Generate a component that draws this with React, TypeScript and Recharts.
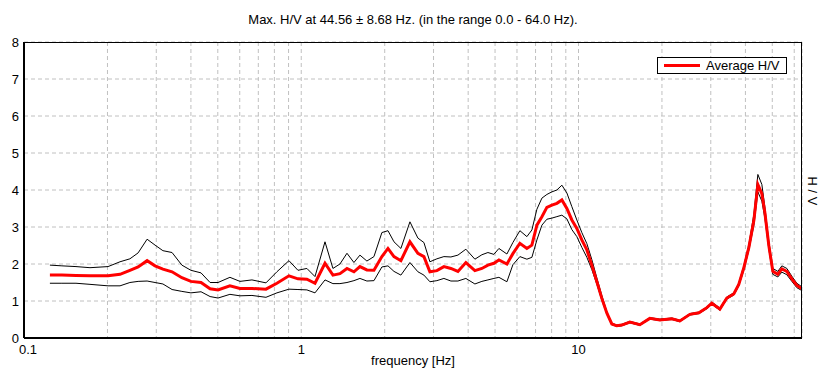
import { CartesianGrid, Legend, Line, LineChart, XAxis, YAxis } from "recharts";

// frequency [Hz] of each sample (log-spaced)
const freq = [
  0.124, 0.137, 0.154, 0.173, 0.201, 0.222, 0.241, 0.258, 0.278, 0.297,
  0.317, 0.342, 0.371, 0.4, 0.435, 0.469, 0.501, 0.553, 0.601, 0.664,
  0.746, 0.817, 0.903, 0.973, 1.048, 1.121, 1.218, 1.301, 1.379, 1.462,
  1.549, 1.628, 1.725, 1.829, 1.954, 2.055, 2.16, 2.288, 2.466, 2.635,
  2.77, 2.911, 3.085, 3.27, 3.466, 3.674, 3.925, 4.23, 4.483, 4.713,
  4.953, 5.164, 5.518, 5.799, 6.146, 6.514, 6.79, 7.079, 7.379, 7.691,
  8.017, 8.357, 8.711, 9.08, 9.464, 9.865, 10.28, 10.72, 11.17, 11.65,
  12.14, 12.66, 13.19, 13.75, 14.33, 15.32, 16.65, 18.08, 19.66, 21.72,
  23.21, 25.22, 27.19, 29.04, 30.27, 32.36, 34.28, 36.31, 37.86, 39.49,
  41.17, 42.92, 44.36, 45.85, 47.0, 48.59, 50.23, 52.36, 54.14, 56.43,
  58.82, 61.32, 64.0,
];

const avgHV = [
  1.7, 1.7, 1.69, 1.68, 1.68, 1.72, 1.83, 1.92, 2.09, 1.95,
  1.86, 1.79, 1.63, 1.53, 1.5, 1.33, 1.3, 1.41, 1.34, 1.34,
  1.32, 1.48, 1.68, 1.6, 1.59, 1.48, 2.02, 1.7, 1.74, 1.88,
  1.79, 1.93, 1.84, 1.83, 2.2, 2.42, 2.2, 2.09, 2.6, 2.29,
  2.2, 1.79, 1.82, 1.93, 1.88, 1.8, 2.04, 1.82, 1.88, 1.97,
  2.02, 2.11, 2.0, 2.28, 2.56, 2.42, 2.51, 3.05, 3.28, 3.53,
  3.59, 3.64, 3.73, 3.5, 3.19, 2.96, 2.65, 2.38, 1.97, 1.52,
  1.07, 0.67, 0.38, 0.33, 0.35, 0.43, 0.36, 0.53, 0.49, 0.52,
  0.46, 0.64, 0.68, 0.82, 0.94, 0.78, 1.08, 1.19, 1.45, 1.9,
  2.45, 3.18, 4.15, 3.9, 3.4, 2.5, 1.8, 1.72, 1.87, 1.8,
  1.6, 1.42, 1.33,
];

const upperHV = [
  1.97, 1.95, 1.93, 1.9, 1.93, 2.06, 2.14, 2.3, 2.67, 2.51,
  2.36, 2.31, 1.97, 1.83, 1.76, 1.5, 1.5, 1.64, 1.53, 1.57,
  1.49, 1.79, 2.09, 1.83, 1.88, 1.66, 2.6, 1.88, 2.0, 2.29,
  2.04, 2.24, 2.08, 2.2, 2.85, 2.9, 2.6, 2.42, 3.14, 2.7,
  2.58, 2.06, 2.14, 2.2, 2.19, 2.24, 2.4, 2.13, 2.25, 2.31,
  2.26, 2.42, 2.27, 2.58, 2.9, 2.74, 2.92, 3.48, 3.78, 3.88,
  3.95, 4.0, 4.13, 3.92, 3.55, 3.19, 2.85, 2.55, 2.12, 1.62,
  1.15, 0.71, 0.4, 0.35, 0.37, 0.45, 0.38, 0.55, 0.51, 0.54,
  0.48, 0.66, 0.7, 0.84, 0.97, 0.81, 1.11, 1.22, 1.49, 1.96,
  2.53, 3.35, 4.42, 4.15, 3.55, 2.6, 1.88, 1.8, 1.95, 1.88,
  1.67, 1.48, 1.38,
];

const lowerHV = [
  1.48, 1.48, 1.48, 1.45, 1.41, 1.41, 1.5, 1.53, 1.54, 1.5,
  1.46, 1.31, 1.26, 1.22, 1.25, 1.12, 1.08, 1.18, 1.14, 1.15,
  1.1, 1.22, 1.32, 1.31, 1.3, 1.22, 1.57, 1.47, 1.47, 1.5,
  1.55, 1.61, 1.54, 1.55, 1.92, 1.95, 1.8, 1.7, 2.04, 1.79,
  1.7, 1.52, 1.55, 1.61, 1.54, 1.54, 1.61, 1.46, 1.53, 1.57,
  1.61, 1.64, 1.52, 1.98, 2.2, 2.13, 2.18, 2.65, 3.05, 3.21,
  3.24, 3.28, 3.32, 3.22, 2.93, 2.74, 2.45, 2.18, 1.85, 1.45,
  1.02, 0.64, 0.36, 0.31, 0.33, 0.41, 0.34, 0.51, 0.47, 0.5,
  0.44, 0.62, 0.66, 0.79, 0.91, 0.75, 1.05, 1.16, 1.41, 1.84,
  2.38, 3.05, 3.95, 3.7, 3.25, 2.4, 1.72, 1.65, 1.78, 1.71,
  1.53, 1.36, 1.28,
];

const xTicks = [
  0.1, 0.2, 0.3, 0.4, 0.5, 0.6, 0.7, 0.8, 0.9,
  1, 2, 3, 4, 5, 6, 7, 8, 9,
  10, 20, 30, 40, 50, 60,
];
const xLabels = [0.1, 1, 10];
const yTicks = [0, 1, 2, 3, 4, 5, 6, 7, 8];

const title = "Max. H/V at 44.56 \u00b1 8.68 Hz. (in the range 0.0 - 64.0 Hz).";

const data = freq.map((f, i) => ({
  f,
  avg: avgHV[i],
  upper: upperHV[i],
  lower: lowerHV[i],
}));

const font = "'Liberation Sans', Arial, sans-serif";

// only the decades get a label; the first one sits a bit right of the axis
function FreqTick({ x, y, payload }: any) {
  const v = payload.value;
  if (!xLabels.includes(v)) return null;
  return (
    <text
      x={x + (v === xLabels[0] ? 4 : 0)}
      y={y}
      dy="0.71em"
      textAnchor="middle"
      fill="#000"
      fontSize={13}
      fontFamily={font}
    >
      {String(v)}
    </text>
  );
}

function LegendBox({ payload }: any) {
  const items = (payload || []).filter((p: any) => p.type !== "none");
  return (
    <div
      style={{
        border: "1px solid #000",
        background: "#fff",
        height: 15,
        display: "flex",
        alignItems: "center",
        fontFamily: font,
        fontSize: 13,
        color: "#000",
      }}
    >
      {items.map((p: any) => (
        <div key={p.value} style={{ display: "flex", alignItems: "center" }}>
          <svg width={48} height={15}>
            <line x1={6} x2={42} y1={7.5} y2={7.5} stroke={p.color} strokeWidth={3} />
          </svg>
          <span>{p.value}</span>
        </div>
      ))}
    </div>
  );
}

export default function App() {
  return (
    <div
      style={{
        position: "absolute",
        left: 0,
        top: 0,
        width: 826,
        height: 381,
        background: "#fff",
        fontFamily: font,
      }}
    >
      <div
        style={{
          position: "absolute",
          top: 12,
          left: 0,
          width: 826,
          textAlign: "center",
          fontSize: 13,
          color: "#000",
        }}
      >
        {title}
      </div>
      <LineChart
        width={826}
        height={381}
        data={data}
        margin={{ top: 42, right: 24, bottom: 0, left: 4 }}
      >
        <CartesianGrid stroke="#c0c0c0" strokeDasharray="4 3" />
        <XAxis
          dataKey="f"
          type="number"
          scale="log"
          domain={[0.1, 64]}
          allowDataOverflow
          ticks={xTicks}
          interval={0}
          tickLine={false}
          tickSize={0}
          tickMargin={7}
          height={43}
          axisLine={{ stroke: "#000", strokeWidth: 2 }}
          tick={<FreqTick />}
          label={{
            value: "frequency [Hz]",
            position: "insideBottom",
            offset: 16,
            fill: "#000",
            fontSize: 13,
            fontFamily: font,
          }}
        />
        <YAxis
          type="number"
          domain={[0, 8]}
          ticks={yTicks}
          interval={0}
          width={20}
          tickLine={false}
          tickSize={0}
          tickMargin={5}
          axisLine={{ stroke: "#000", strokeWidth: 2 }}
          tick={{ fill: "#000", fontSize: 13, fontFamily: font }}
        />
        <Legend
          layout="horizontal"
          verticalAlign="middle"
          align="center"
          content={<LegendBox />}
          wrapperStyle={{ left: 657, top: 57, width: 130, height: 17 }}
        />
        <Line
          dataKey="upper"
          stroke="#000"
          strokeWidth={1}
          dot={false}
          type="linear"
          legendType="none"
          isAnimationActive={false}
        />
        <Line
          dataKey="lower"
          stroke="#000"
          strokeWidth={1}
          dot={false}
          type="linear"
          legendType="none"
          isAnimationActive={false}
        />
        <Line
          dataKey="avg"
          name="Average H/V"
          stroke="#ff0000"
          strokeWidth={3}
          dot={false}
          type="linear"
          isAnimationActive={false}
        />
      </LineChart>
      <div
        style={{
          position: "absolute",
          left: 24,
          top: 42,
          width: 777,
          height: 295,
          borderTop: "1px solid #000",
          borderRight: "1px solid #000",
          pointerEvents: "none",
        }}
      />
      <div
        style={{
          position: "absolute",
          left: 812,
          top: 191,
          transform: "translate(-50%, -50%) rotate(90deg)",
          fontSize: 13,
          whiteSpace: "nowrap",
          color: "#000",
        }}
      >
        H / V
      </div>
    </div>
  );
}
